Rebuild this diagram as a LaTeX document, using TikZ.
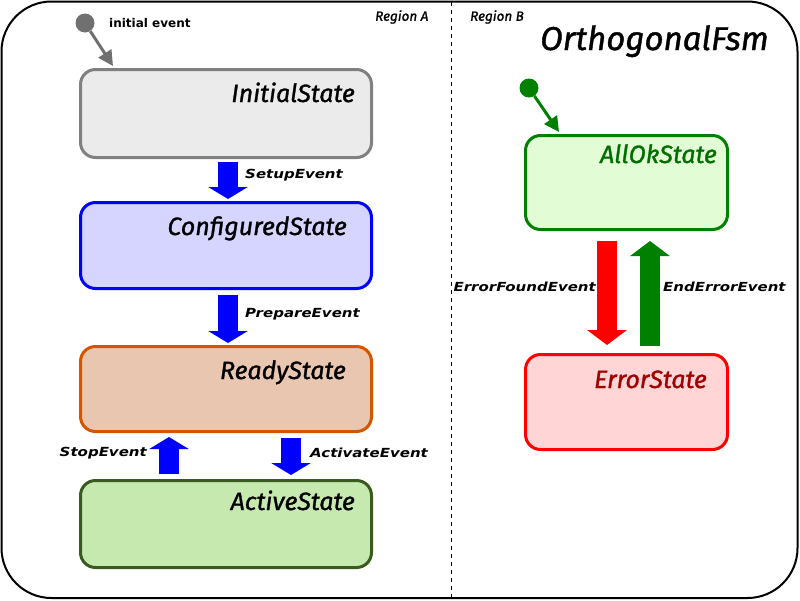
\documentclass[tikz,border=0pt]{standalone}
\usepackage{fontspec}
\setmainfont{Fira Sans}
\newfontfamily\handfont{Fira Sans}[UprightFont=*-Italic, FakeBold=1.2]
\newfontfamily\evfont{DejaVu Sans}[UprightFont=* Bold Oblique, FakeStretch=1.2]
\newfontfamily\initfont{DejaVu Sans}[UprightFont=* Bold]
\usetikzlibrary{arrows.meta}
\definecolor{initfill}{HTML}{EBEBEB}
\definecolor{initdraw}{HTML}{808080}
\definecolor{conffill}{HTML}{D5D5FF}
\definecolor{readyfill}{HTML}{E9C6AF}
\definecolor{readydraw}{HTML}{D45500}
\definecolor{actfill}{HTML}{C6E9AF}
\definecolor{actdraw}{HTML}{3A5A1F}
\definecolor{okfill}{HTML}{E2FCD6}
\definecolor{okdraw}{HTML}{008000}
\definecolor{oktext}{HTML}{006E00}
\definecolor{errfill}{HTML}{FFD5D5}
\definecolor{errtext}{HTML}{A00000}
\definecolor{initarrow}{HTML}{707070}
\begin{document}
\begin{tikzpicture}[x=1pt,y=-1pt,
  statebox/.style={draw, line width=3pt, rounded corners=15pt, inner sep=0pt},
  statename/.style={anchor=base east, inner sep=0pt, font=\handfont\fontsize{25}{27}\selectfont},
  evlabel/.style={inner sep=0pt, font=\evfont\fontsize{12.5}{14}\selectfont},
  fat/.style={line width=20pt, line cap=butt},
  tipshort/.style={-{Triangle[width=39pt,length=12pt]}},
  tiplong/.style={-{Triangle[width=39pt,length=15pt]}},
  dot/.style={circle, inner sep=0pt, minimum size=19pt}
]
\useasboundingbox (0,0) rectangle (800,600);
% frame
\draw[line width=2pt, rounded corners=50pt] (1.5,1.5) rectangle (797.5,598);
\draw[line width=1pt, dash pattern=on 4pt off 4pt] (451,2) -- (451,598);
\node[anchor=west, inner sep=0pt, font=\handfont\fontsize{13.5}{14}\selectfont] (rega) at (375,17) {Region A};
\node[anchor=west, inner sep=0pt, font=\handfont\fontsize{13.5}{14}\selectfont] (regb) at (470,17) {Region B};
\node[anchor=base west, inner sep=0pt, font=\handfont\fontsize{33}{36}\selectfont] (title) at (540,50) {OrthogonalFsm};

% states region A
\node[statebox, draw=initdraw, fill=initfill, minimum width=291pt, minimum height=88pt] (init) at (226,113.5) {};
\node[statebox, draw=blue, fill=conffill, minimum width=291pt, minimum height=86pt] (conf) at (226,245.5) {};
\node[statebox, draw=readydraw, fill=readyfill, minimum width=291pt, minimum height=85pt] (ready) at (226,389) {};
\node[statebox, draw=actdraw, fill=actfill, minimum width=291pt, minimum height=87pt] (active) at (226,524) {};
\node[statename] (initn) at (355,102) {InitialState};
\node[statename] (confn) at (347,235) {ConfiguredState};
\node[statename] (readyn) at (346,379) {ReadyState};
\node[statename] (activen) at (355,510) {ActiveState};

% states region B
\node[statebox, draw=okdraw, fill=okfill, minimum width=202pt, minimum height=94pt] (allok) at (626.5,182.5) {};
\node[statebox, draw=red, fill=errfill, minimum width=202pt, minimum height=95pt] (err) at (626.5,402) {};
\node[statename, text=oktext] (allokn) at (717,163) {AllOkState};
\node[statename, text=errtext] (errn) at (707,388) {ErrorState};

% initial pseudostates
\node[dot, fill=initarrow] (i0) at (85,23) {};
\coordinate (i0t) at (113,66);
\draw[initarrow, line width=3pt, -{Triangle[width=15pt,length=15pt]}] (i0) -- (i0t);
\node[anchor=west, inner sep=0pt, font=\initfont\fontsize{12}{14}\selectfont] (ilabel) at (109,23) {initial event};
\node[dot, fill=okdraw] (i1) at (529,88) {};
\coordinate (i1t) at (559,132);
\draw[okdraw, line width=3pt, -{Triangle[width=15pt,length=15pt]}] (i1) -- (i1t);

% transitions region A
\draw[fat, blue, tipshort, shorten <=3pt, shorten >=2pt] ([xshift=2pt]init.south) -- ([xshift=2pt]conf.north);
\node[evlabel, anchor=west] (setup) at (245,175) {SetupEvent};
\draw[fat, blue, tipshort, shorten <=5pt, shorten >=2pt] ([xshift=2pt]conf.south) -- ([xshift=2pt]ready.north);
\node[evlabel, anchor=west] (prep) at (245,314) {PrepareEvent};
\draw[fat, blue, tipshort, shorten <=5pt, shorten >=4pt] ([xshift=-57pt]active.north) -- ([xshift=-57pt]ready.south);
\node[evlabel, anchor=east] (stop) at (147,453) {StopEvent};
\draw[fat, blue, tipshort, shorten <=5pt, shorten >=4pt] ([xshift=65pt]ready.south) -- ([xshift=65pt]active.north);
\node[evlabel, anchor=west] (activate) at (310,453) {ActivateEvent};

% transitions region B
\draw[fat, red, tiplong, shorten <=10pt, shorten >=8pt] ([xshift=-19.5pt]allok.south) -- ([xshift=-19.5pt]err.north);
\node[evlabel, anchor=east] (efound) at (596,287) {ErrorFoundEvent};
\draw[fat, okdraw, tiplong, shorten <=7pt, shorten >=10pt] ([xshift=23.5pt]err.north) -- ([xshift=23.5pt]allok.south);
\node[evlabel, anchor=west] (eend) at (663,287) {EndErrorEvent};
\end{tikzpicture}
\end{document}
